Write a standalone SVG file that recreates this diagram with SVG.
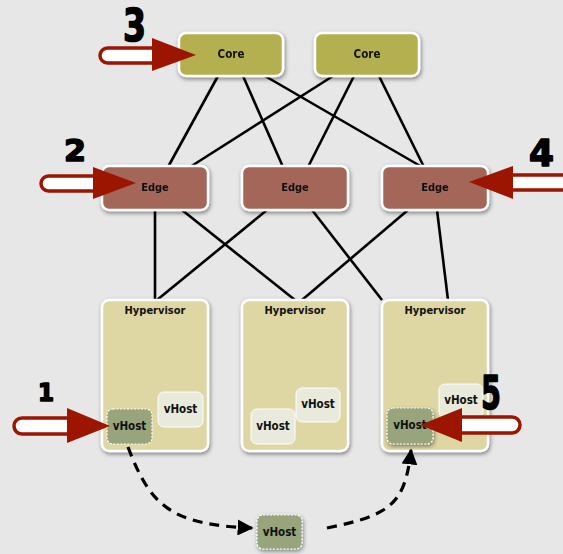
<svg xmlns="http://www.w3.org/2000/svg" width="563" height="554" viewBox="0 0 563 554">
<defs>
<filter id="sh" x="-20%" y="-20%" width="140%" height="150%">
<feDropShadow dx="1" dy="2" stdDeviation="2" flood-color="#000" flood-opacity="0.45"/>
</filter>
<marker id="ah" viewBox="0 0 10 10" refX="9" refY="5" markerWidth="5" markerHeight="5" orient="auto" markerUnits="strokeWidth">
<path d="M0,0 L10,5 L0,10 Z" fill="#000"/>
</marker>
<style>
.core{fill:#b5b04f;stroke:#fff;stroke-width:2.5}
.edge{fill:#a5665a;stroke:#fff;stroke-width:2.5}
.hyp{fill:#ded6a3;stroke:#fff;stroke-width:2.5}
.vl{fill:#e8eadb;stroke:#fff;stroke-width:1}
.vg{fill:#98a47b;stroke:#fff;stroke-width:1.2;stroke-dasharray:2 1.5}
.lbl{font-family:"Liberation Sans Narrow","DejaVu Sans Condensed","Liberation Sans",sans-serif;font-weight:bold;fill:#111;text-anchor:middle}
.num{font-family:"DejaVu Sans","Liberation Sans",sans-serif;font-weight:900;fill:#000;stroke:#000;stroke-width:1.6;stroke-linejoin:round}
.ln{stroke:#000;stroke-width:2.6;fill:none}
.dash{stroke:#000;stroke-width:3.2;fill:none;stroke-dasharray:10 7}
.bar{fill:#fff;stroke:#9b1500;stroke-width:3.5}
.head{fill:#9b1500}
</style>
</defs>
<rect width="563" height="554" fill="#e7e7e7"/>
<g id="connectors">
<line class="ln" x1="218" y1="76" x2="168" y2="167"/>
<line class="ln" x1="243" y1="76" x2="283" y2="167"/>
<line class="ln" x1="265" y1="76" x2="422" y2="167"/>
<line class="ln" x1="333" y1="76" x2="190" y2="167"/>
<line class="ln" x1="354" y1="76" x2="308" y2="167"/>
<line class="ln" x1="379" y1="76" x2="424" y2="167"/>
<line class="ln" x1="155" y1="210" x2="155" y2="300"/>
<line class="ln" x1="182" y1="210" x2="295" y2="300"/>
<line class="ln" x1="267" y1="210" x2="157" y2="300"/>
<line class="ln" x1="312" y1="210" x2="382" y2="300"/>
<line class="ln" x1="408" y1="210" x2="302" y2="300"/>
<line class="ln" x1="437" y1="210" x2="448" y2="300"/>
</g>
<g id="core1" filter="url(#sh)"><rect class="core" x="179" y="33" width="104" height="43" rx="7"/><text class="lbl" x="231" y="58" font-size="11.5">Core</text></g>
<g id="core2" filter="url(#sh)"><rect class="core" x="315" y="33" width="104" height="43" rx="7"/><text class="lbl" x="367" y="58" font-size="11.5">Core</text></g>
<g id="edge1" filter="url(#sh)"><rect class="edge" x="102" y="166" width="106" height="44" rx="7"/><text class="lbl" x="155" y="191" font-size="11">Edge</text></g>
<g id="edge2" filter="url(#sh)"><rect class="edge" x="242" y="166" width="106" height="44" rx="7"/><text class="lbl" x="295" y="191" font-size="11">Edge</text></g>
<g id="edge3" filter="url(#sh)"><rect class="edge" x="382" y="166" width="106" height="44" rx="7"/><text class="lbl" x="435" y="191" font-size="11">Edge</text></g>
<g id="hyp1"><rect class="hyp" x="102" y="300" width="106" height="151" rx="7" filter="url(#sh)"/><text class="lbl" x="155" y="314" font-size="11">Hypervisor</text>
<g id="vhost1b"><rect class="vl" x="158" y="392" width="45" height="35" rx="6"/><text class="lbl" x="180.5" y="413" font-size="11.5">vHost</text></g>
<g id="vhost1a"><rect class="vg" x="107" y="409" width="45" height="35" rx="6"/><text class="lbl" x="129.5" y="430" font-size="11.5">vHost</text></g>
</g>
<g id="hyp2"><rect class="hyp" x="242" y="300" width="106" height="151" rx="7" filter="url(#sh)"/><text class="lbl" x="295" y="314" font-size="11">Hypervisor</text>
<g id="vhost2b"><rect class="vl" x="296" y="388" width="44" height="34" rx="6"/><text class="lbl" x="318" y="408" font-size="11.5">vHost</text></g>
<g id="vhost2a"><rect class="vl" x="251" y="409" width="44" height="35" rx="6"/><text class="lbl" x="273" y="430" font-size="11.5">vHost</text></g>
</g>
<g id="hyp3"><rect class="hyp" x="382" y="300" width="106" height="151" rx="7" filter="url(#sh)"/><text class="lbl" x="435" y="314" font-size="11">Hypervisor</text>
<g id="vhost3b"><rect class="vl" x="439" y="384" width="44" height="34" rx="6"/><text class="lbl" x="461" y="404" font-size="11.5">vHost</text></g>
<g id="vhost3a"><rect class="vg" x="387" y="408" width="46" height="36" rx="6" filter="url(#sh)"/><text class="lbl" x="410" y="429" font-size="11.5">vHost</text></g>
</g>
<g id="vhost-moved"><rect class="vg" x="257" y="515" width="45" height="34" rx="6" filter="url(#sh)"/><text class="lbl" x="279.5" y="536" font-size="11.5">vHost</text></g>
<g id="migration">
<path class="dash" d="M128,447 C150,505 170,525 252,528" marker-end="url(#ah)"/>
<path class="dash" d="M327,528 C390,515 405,505 411,450" marker-end="url(#ah)"/>
</g>
<g id="callout3"><rect class="bar" x="100" y="48" width="65" height="15" rx="7.5"/><polygon class="head" points="152,38 196,55 152,71"/><text class="num" x="123" y="41" font-size="44" textLength="23" lengthAdjust="spacingAndGlyphs">3</text></g>
<g id="callout2"><rect class="bar" x="41" y="176" width="65" height="15" rx="7.5"/><polygon class="head" points="93,167 136,183 93,199"/><text class="num" x="64" y="161" font-size="31" textLength="22" lengthAdjust="spacingAndGlyphs">2</text></g>
<g id="callout4"><rect class="bar" x="505" y="175" width="70" height="15" rx="7.5"/><polygon class="head" points="513,166 469,182 513,199"/><text class="num" x="529" y="166" font-size="38" textLength="25" lengthAdjust="spacingAndGlyphs">4</text></g>
<g id="callout1"><rect class="bar" x="14" y="418" width="65" height="16" rx="8"/><polygon class="head" points="67,408 110,426 67,443"/><text class="num" x="38" y="401" font-size="24" textLength="16" lengthAdjust="spacingAndGlyphs">1</text></g>
<g id="callout5"><rect class="bar" x="452" y="417" width="68" height="16" rx="8"/><polygon class="head" points="462,408 420,425 462,442"/><text class="num" x="481" y="409" font-size="46" textLength="20" lengthAdjust="spacingAndGlyphs">5</text></g>
</svg>
